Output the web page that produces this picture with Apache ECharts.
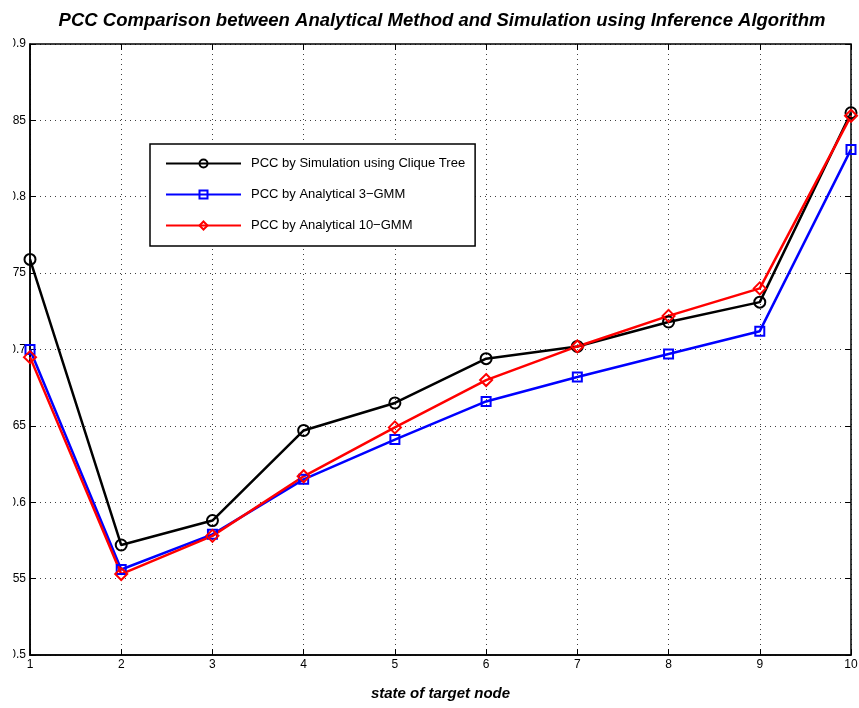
<!DOCTYPE html>
<html>
<head>
<meta charset="utf-8">
<script src="https://cdn.jsdelivr.net/npm/echarts@6/dist/echarts.min.js"></script>
<style>
  html, body { margin: 0; padding: 0; background: #fff; }
  #chart { width: 859px; height: 708px; }
</style>
</head>
<body>
<div id="chart"></div>
<script>
// States of the target node (x axis)
const states = [1, 2, 3, 4, 5, 6, 7, 8, 9, 10];

// PCC values per state
const pccSimulation = [0.759, 0.572, 0.588, 0.647, 0.665, 0.694, 0.702, 0.718, 0.731, 0.855];
const pccAnalytical3 = [0.700, 0.556, 0.579, 0.615, 0.641, 0.666, 0.682, 0.697, 0.712, 0.831];
const pccAnalytical10 = [0.695, 0.553, 0.578, 0.617, 0.649, 0.680, 0.702, 0.722, 0.740, 0.853];

// Y tick labels
const yTicks = ['0.5', '0.55', '0.6', '0.65', '0.7', '0.75', '0.8', '0.85', '0.9'];

const seriesNames = [
  'PCC by Simulation using Clique Tree',
  'PCC by Analytical 3\u2212GMM',
  'PCC by Analytical 10\u2212GMM'
];

const font = 'Liberation Sans, Arial, Helvetica, sans-serif';

function pairs(vals) {
  return states.map((s, i) => [s, vals[i]]);
}

function lineSeries(name, vals, color, symbol, size) {
  return {
    name: name,
    type: 'line',
    data: pairs(vals),
    symbol: symbol,
    symbolSize: size,
    showAllSymbol: true,
    lineStyle: { color: color, width: 2.5 },
    itemStyle: { color: 'rgba(255,255,255,0)', borderColor: color, borderWidth: 2 },
    emphasis: { disabled: true },
    animation: false,
    z: 3
  };
}

const gridLine = { show: true, lineStyle: { color: '#000', type: [1, 4], width: 1, opacity: 0.75 } };

const chart = echarts.init(document.getElementById('chart'), null, { renderer: 'canvas' });
chart.setOption({
  backgroundColor: '#fff',
  animation: false,
  title: {
    text: 'PCC Comparison between Analytical Method and Simulation using Inference Algorithm',
    left: 437,
    textAlign: 'center',
    top: 6,
    textStyle: { fontFamily: font, fontSize: 18.5, fontWeight: 'bold', fontStyle: 'italic', color: '#000' }
  },
  grid: {
    left: 30, right: 8, top: 44, bottom: 53,
    outerBoundsMode: 'none', containLabel: false,
    show: true, borderColor: '#000', borderWidth: 1.5, backgroundColor: 'transparent'
  },
  legend: {
    left: 150,
    top: 144,
    orient: 'vertical',
    padding: [13, 10, 14, 15],
    itemGap: 18,
    itemWidth: 75,
    itemHeight: 10,
    backgroundColor: '#fff',
    borderColor: '#000',
    borderWidth: 1.5,
    textStyle: { fontFamily: font, fontSize: 13, color: '#000', padding: [0, 0, 0, 5] },
    data: seriesNames
  },
  // White strip on the far left edge where the tick labels run off the figure
  graphic: [{
    type: 'rect',
    left: 0, top: 30,
    shape: { width: 13, height: 640 },
    style: { fill: '#fff' },
    z: 100
  }],
  xAxis: [{
    type: 'value',
    min: 1,
    max: 10,
    interval: 1,
    name: 'state of target node',
    nameLocation: 'middle',
    nameGap: 31,
    nameTextStyle: { fontFamily: font, fontSize: 15, fontWeight: 'bold', fontStyle: 'italic', color: '#000' },
    axisLine: { show: true, lineStyle: { color: '#000', width: 1.5 } },
    axisTick: { show: true, inside: true, length: 6, lineStyle: { color: '#000' } },
    axisLabel: { fontFamily: font, fontSize: 12, color: '#000', margin: 4 },
    splitLine: gridLine
  }, {
    type: 'value', position: 'top', min: 1, max: 10, interval: 1,
    axisLine: { show: false },
    axisTick: { show: true, inside: true, length: 6, lineStyle: { color: '#000' } },
    axisLabel: { show: false }, splitLine: { show: false }
  }],
  yAxis: [{
    type: 'value',
    min: 0.5,
    max: 0.9,
    interval: 0.05,
    axisLine: { show: true, lineStyle: { color: '#000', width: 1.5 } },
    axisTick: { show: true, inside: true, length: 6, lineStyle: { color: '#000' } },
    axisLabel: {
      fontFamily: font, fontSize: 12, color: '#000', margin: 4,
      formatter: (v) => yTicks[Math.round((v - 0.5) / 0.05)]
    },
    splitLine: gridLine
  }, {
    type: 'value', position: 'right', min: 0.5, max: 0.9, interval: 0.05,
    axisLine: { show: false },
    axisTick: { show: true, inside: true, length: 6, lineStyle: { color: '#000' } },
    axisLabel: { show: false }, splitLine: { show: false }
  }],
  series: [
    lineSeries(seriesNames[0], pccSimulation, '#000000', 'circle', 11),
    lineSeries(seriesNames[1], pccAnalytical3, '#0000ff', 'rect', 9),
    lineSeries(seriesNames[2], pccAnalytical10, '#ff0000', 'diamond', 12)
  ]
});
</script>
</body>
</html>
